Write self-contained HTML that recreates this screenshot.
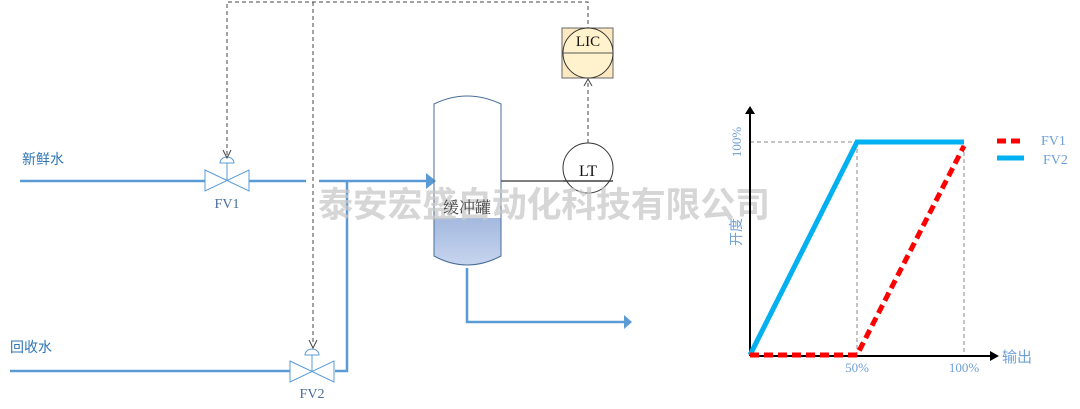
<!DOCTYPE html>
<html><head><meta charset="utf-8"><style>body{margin:0;background:#fff}svg{display:block}</style></head>
<body>
<svg width="1080" height="409" viewBox="0 0 1080 409" xmlns="http://www.w3.org/2000/svg" font-family="Liberation Serif, serif">
<defs>
<linearGradient id="liq" x1="0" y1="0" x2="0" y2="1"><stop offset="0" stop-color="#a4b9df"/><stop offset="1" stop-color="#c6d4ee"/></linearGradient>
</defs>
<g stroke="#5b9bd5" stroke-width="2.5" fill="none">
<path d="M20 181H205M248 181H306M319 181H426"/>
<path d="M347 181V371H335M10 371H290"/>
<path d="M467 268V322H624"/>
</g>
<polygon points="426,173 436,181 426,189" fill="#5b9bd5"/>
<polygon points="624,315 632,322 624,329" fill="#5b9bd5"/>
<g stroke="#5b9bd5" stroke-width="1" fill="#fff">
<path d="M205 170L249 191V170L205 191Z"/>
<path d="M227 180V163"/><path d="M220 163a7 6 0 0 1 14 0Z"/>
<path d="M290 361L334 382V361L290 382Z"/>
<path d="M312 371V355"/><path d="M305 355a7 6 0 0 1 14 0Z"/>
</g>
<text x="227" y="208" font-size="14" fill="#4a6e98" text-anchor="middle">FV1</text>
<text x="312" y="398" font-size="14" fill="#4a6e98" text-anchor="middle">FV2</text>
<text x="22" y="164" font-size="14" fill="#2e75b6" font-family="Liberation Sans, Noto Sans CJK SC, sans-serif">新鲜水</text>
<text x="10" y="352" font-size="14" fill="#2e75b6" font-family="Liberation Sans, Noto Sans CJK SC, sans-serif">回收水</text>
<g stroke="#444" stroke-width="1" fill="none" stroke-dasharray="4,3">
<path d="M227 155V2H588V28"/>
<path d="M313 2V345"/>
<path d="M588 143V80"/>
</g>
<g stroke="#444" stroke-width="1" fill="none">
<path d="M223 150L227 158L231 150"/>
<path d="M309 340L313 348L317 340"/>
<path d="M584 86L588 79L592 86"/>
</g>
<path d="M434 218V256Q467 274 501 256V218Z" fill="url(#liq)"/>
<path d="M434 104Q467 88 501 104V256Q467 274 434 256Z" fill="none" stroke="#4a6e98" stroke-width="1"/>
<path d="M501 181H613" stroke="#555" stroke-width="1.5"/>
<circle cx="588" cy="168" r="25" fill="none" stroke="#333" stroke-width="1"/>
<path d="M563 181H613" stroke="#333"/>
<text x="588" y="176" font-size="16" text-anchor="middle" fill="#111">LT</text>
<rect x="562" y="28" width="51" height="50" fill="#fde9c1" stroke="#666"/>
<circle cx="588" cy="53" r="25" fill="#fff2cc" stroke="#333"/>
<path d="M563 53H613" stroke="#555"/>
<text x="588" y="46" font-size="15" text-anchor="middle" fill="#111">LIC</text>
<text x="318" y="217" font-size="35" font-weight="bold" fill="#c8c8c8" fill-opacity="0.75" font-family="Noto Sans CJK SC, sans-serif" textLength="452">泰安宏盛自动化科技有限公司</text>
<text x="467" y="213" font-size="16" text-anchor="middle" fill="#444" font-family="Liberation Serif, Noto Serif CJK SC, serif">缓冲罐</text>
<g stroke="#888" stroke-width="1" stroke-dasharray="4,3" fill="none">
<path d="M750 142H964V356"/><path d="M857 142V356"/>
</g>
<path d="M750 356V112M750 356H992" stroke="#000" stroke-width="2" fill="none"/>
<polygon points="745,114 750,106 755,114" fill="#000"/>
<polygon points="990,351 999,356 990,361" fill="#000"/>
<path d="M750 355L857 142H964" stroke="#00b0f0" stroke-width="5" fill="none"/>
<path d="M750 355H857L964 146" stroke="#ff0000" stroke-width="5" fill="none" stroke-dasharray="9,5"/>
<path d="M997 141H1024" stroke="#ff0000" stroke-width="5" stroke-dasharray="9,5"/>
<path d="M997 158H1024" stroke="#00b0f0" stroke-width="5"/>
<text x="1041" y="145" font-size="14" fill="#6fa0d8">FV1</text>
<text x="1043" y="164" font-size="14" fill="#6fa0d8">FV2</text>
<text x="857" y="372" font-size="13" text-anchor="middle" fill="#6fa0d8">50%</text>
<text x="964" y="372" font-size="13" text-anchor="middle" fill="#6fa0d8">100%</text>
<text x="1002" y="362" font-size="15" fill="#6fa0d8" font-family="Liberation Sans, Noto Sans CJK SC, sans-serif">输出</text>
<text transform="translate(741,142) rotate(-90)" font-size="13" text-anchor="middle" fill="#6fa0d8">100%</text>
<text transform="translate(741,232) rotate(-90)" font-size="14" text-anchor="middle" fill="#6fa0d8" font-family="Liberation Sans, Noto Sans CJK SC, sans-serif">开度</text>
</svg>
</body></html>
